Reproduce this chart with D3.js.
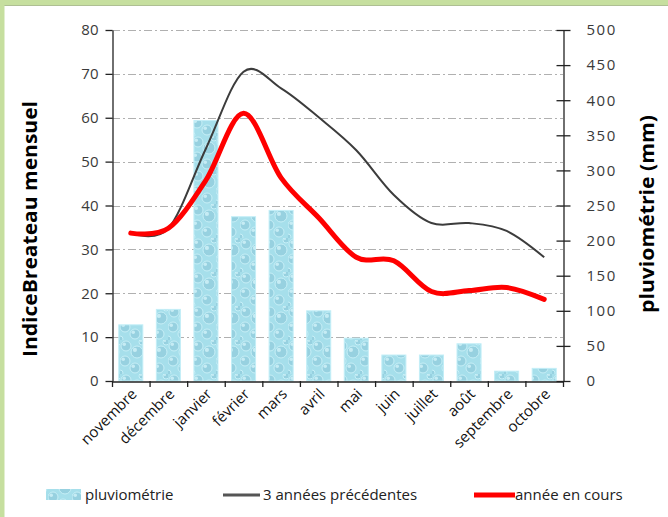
<!DOCTYPE html>
<html><head><meta charset="utf-8">
<script src="https://cdn.jsdelivr.net/npm/d3@7/dist/d3.min.js"></script>
<style>body{margin:0;background:#fff}svg{display:block}</style>
</head><body><svg id="c" width="668" height="517"></svg>
<script>
const months = ["novembre","décembre","janvier","février","mars","avril","mai","juin","juillet","août","septembre","octobre"];
const pluvio = [80,102,371,234,243,100,61,37,37,53,14,18];
const prev3 = [33.7,34.8,53,70.5,66.7,60.1,52.6,42.4,36,36,34.2,28.2];
const current = [33.7,34.8,45.8,61,46.3,37.2,28.2,27.4,20.4,20.6,21.3,18.6];
const leftTicks = [0,10,20,30,40,50,60,70,80];
const rightTicks = [0,50,100,150,200,250,300,350,400,450,500];
const legendLabels = ["pluviométrie","3 années précédentes","année en cours"];

const svg = d3.select("#c");
const font = "'Open Sans', 'DejaVu Sans', sans-serif";

// frame
svg.append("rect").attr("width",668).attr("height",517).attr("fill","#fff");
svg.append("rect").attr("x",0).attr("y",0).attr("width",668).attr("height",5).attr("fill","#c6df9f");
svg.append("rect").attr("x",0).attr("y",5).attr("width",668).attr("height",1).attr("fill","#aebf93");
svg.append("rect").attr("x",0).attr("y",0).attr("width",4.5).attr("height",517).attr("fill","#c6df9f");

// pattern
const defs = svg.append("defs");
const pat = defs.append("pattern").attr("id","water").attr("patternUnits","userSpaceOnUse")
  .attr("width",24).attr("height",34);
pat.append("rect").attr("width",24).attr("height",34).attr("fill","#a6dfeb");
const drops = [[6,6,5],[17,12,6],[5,21,5],[15,28,5],[22,2,3],[0,33,3]];
drops.forEach(d=>{
  pat.append("circle").attr("cx",d[0]).attr("cy",d[1]).attr("r",d[2]).attr("fill","#97d1e0").attr("stroke","#c6eff7").attr("stroke-width",1);
  pat.append("circle").attr("cx",d[0]-d[2]*0.35).attr("cy",d[1]-d[2]*0.35).attr("r",d[2]*0.35).attr("fill","#d2f3f9").attr("opacity",0.8);
});

const L = 112, R = 563, T = 30, B = 381;
const x = d3.scaleBand().domain(months).range([L,R]).paddingInner(0.36).paddingOuter(0.18);
const yL = d3.scaleLinear().domain([0,80]).range([B,T]);
const yR = d3.scaleLinear().domain([0,500]).range([B,T]);
const cx = m => x(m) + x.bandwidth()/2;

// gridlines
svg.append("g").selectAll("line").data(leftTicks.filter(t=>t>0)).join("line")
  .attr("x1",L).attr("x2",R).attr("y1",d=>Math.round(yL(d))+0.5).attr("y2",d=>Math.round(yL(d))+0.5)
  .attr("stroke","#b0b0b0").attr("stroke-width",1).attr("stroke-dasharray","8,3,2,3");

// bars
svg.append("g").selectAll("rect").data(months).join("rect")
  .attr("x",d=>x(d)).attr("width",x.bandwidth())
  .attr("y",(d,i)=>yR(pluvio[i])).attr("height",(d,i)=>B-yR(pluvio[i]))
  .attr("fill","url(#water)").attr("stroke","#c2eef7").attr("stroke-width",1);

// axes
const gl = svg.append("g").attr("transform",`translate(${L+0.5},0)`)
  .call(d3.axisLeft(yL).tickValues(leftTicks).tickSize(7).tickPadding(7).tickSizeOuter(0));
const gr = svg.append("g").attr("transform",`translate(${R+0.5},0)`)
  .call(d3.axisRight(yR).tickValues(rightTicks).tickSize(7).tickPadding(16).tickSizeOuter(0));
gr.selectAll(".tick line").attr("x1",-7);
const gb = svg.append("g").attr("transform",`translate(0,${B+0.5})`)
  .call(d3.axisBottom(x).tickSize(0).tickSizeOuter(0).tickFormat(""));
[gl,gr,gb].forEach(g=>{
  g.select(".domain").attr("stroke","#222").attr("stroke-width",1.3);
  g.selectAll(".tick line").attr("stroke","#222").attr("stroke-width",1.3);
  g.selectAll("text").attr("font-family",font).attr("font-size",15).attr("fill","#3a3a3a");
});
gr.selectAll("text").attr("letter-spacing","1.5px");
// bottom boundary ticks
const bounds = months.map(m=>x(m)-x.step()*x.paddingInner()/2).concat([R]);
svg.append("g").selectAll("line").data(bounds).join("line")
  .attr("x1",d=>d+0.5).attr("x2",d=>d+0.5).attr("y1",B).attr("y2",B+6)
  .attr("stroke","#222").attr("stroke-width",1.3);

// x labels
svg.append("g").selectAll("text").data(months).join("text")
  .attr("transform",d=>`translate(${cx(d)+7},${B+14}) rotate(-45)`)
  .attr("text-anchor","end").attr("font-family",font).attr("font-size",15).attr("fill","#111")
  .text(d=>d);

// lines
const line = d3.line().x(d=>cx(d.m)).y(d=>yL(d.v)).curve(d3.curveCatmullRom.alpha(0));
svg.append("path").datum(months.map((m,i)=>({m,v:prev3[i]})))
  .attr("d",line).attr("fill","none").attr("stroke","#3c3c3c").attr("stroke-width",2);
svg.append("path").datum(months.map((m,i)=>({m,v:current[i]})))
  .attr("d",line).attr("fill","none").attr("stroke","#ff0000").attr("stroke-width",5).attr("stroke-linecap","round");

// axis titles
svg.append("text").attr("transform","translate(37,229) rotate(-90)").attr("text-anchor","middle")
  .attr("font-family",font).attr("font-weight","bold").attr("font-size",19).attr("fill","#000")
  .attr("textLength",256).attr("lengthAdjust","spacingAndGlyphs")
  .text("IndiceBreateau mensuel");
svg.append("text").attr("transform","translate(654,214) rotate(-90)").attr("text-anchor","middle")
  .attr("font-family",font).attr("font-weight","bold").attr("font-size",19).attr("fill","#000")
  .attr("textLength",198).attr("lengthAdjust","spacingAndGlyphs")
  .text("pluviométrie (mm)");

// legend
const ly = 495;
const lg = svg.append("g").attr("font-family",font).attr("font-size",15).attr("fill","#222");
lg.append("rect").attr("x",46).attr("y",ly-6).attr("width",35).attr("height",11).attr("fill","url(#water)");
lg.append("text").attr("x",85).attr("y",ly+5).text(legendLabels[0]);
lg.append("line").attr("x1",223).attr("x2",260).attr("y1",ly).attr("y2",ly).attr("stroke","#555").attr("stroke-width",3);
lg.append("text").attr("x",263).attr("y",ly+5).text(legendLabels[1]);
lg.append("line").attr("x1",474).attr("x2",515).attr("y1",ly).attr("y2",ly).attr("stroke","#ff0000").attr("stroke-width",5);
lg.append("text").attr("x",515).attr("y",ly+5).text(legendLabels[2]);
</script></body></html>
